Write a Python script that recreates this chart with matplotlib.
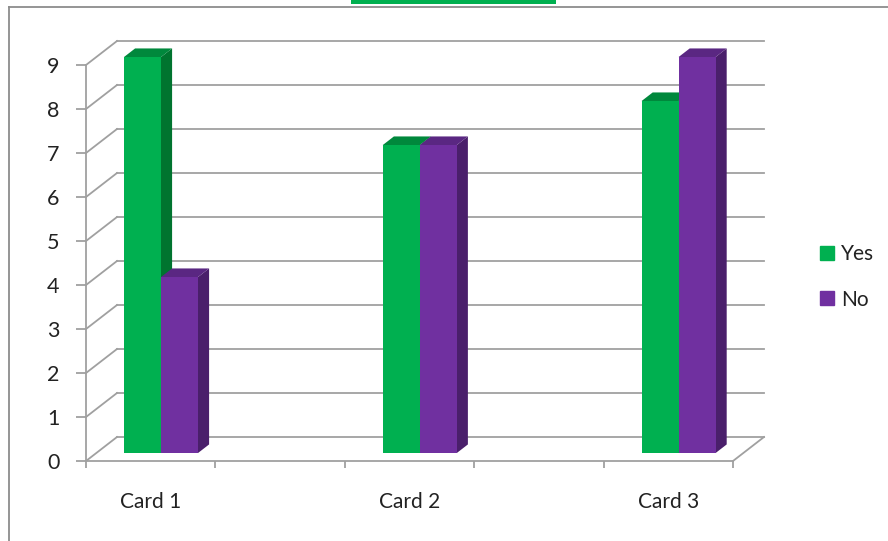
import matplotlib.pyplot as plt
from matplotlib.patches import Polygon, Rectangle
from matplotlib.lines import Line2D

categories = ['Card 1', 'Card 2', 'Card 3']
yes_values = [9, 7, 8]
no_values = [4, 7, 9]
series_names = ['Yes', 'No']
y_ticks = list(range(0, 10))

front_colors = ['#00B050', '#7030A0']
side_colors = ['#00742F', '#4A1F6B']
top_colors = ['#00883C', '#5A2782']
grid_color = '#A0A0A0'

plt.rcParams['font.family'] = ['Lato', 'DejaVu Sans']

fig = plt.figure(figsize=(8.88, 5.41), dpi=100)
ax = fig.add_axes([86 / 888, 80 / 541, 647 / 888, 396 / 541])
n_slots = 2 * len(categories) - 1
ax.set_xlim(0, n_slots)
ax.set_ylim(0, 9)
ax.patch.set_alpha(0)

# pixels per data unit, used to turn the 3-D depth into data offsets
sx = 647 / n_slots
sy = 396 / 9
wall_dx, wall_dy = 31 / sx, 24 / sy


def depth(t):
    return t * wall_dx, t * wall_dy


# back wall gridlines and the left wall connectors
for v in y_ticks:
    ax.plot([wall_dx, n_slots + wall_dx], [v + wall_dy] * 2, color=grid_color,
            lw=1.3, clip_on=False, zorder=1)
    ax.plot([0, wall_dx], [v, v + wall_dy], color=grid_color, lw=1.3,
            clip_on=False, zorder=1)
ax.plot([n_slots, n_slots + wall_dx], [0, wall_dy], color=grid_color, lw=1.3,
        clip_on=False, zorder=1)

# clustered 3-D columns
bar_w = 37 / sx
fdx, fdy = depth(0.33)
bdx, bdy = depth(0.69)
values = [yes_values, no_values]
for i in range(len(categories)):
    c = 2 * i + 0.5
    for j in range(2):
        v = values[j][i]
        x0 = c - bar_w + j * bar_w + fdx
        x1 = x0 + bar_w
        z = 3 + i * 10 + j * 3
        side = Polygon([(x1, fdy), (x1 + bdx - fdx, bdy), (x1 + bdx - fdx, v + bdy),
                        (x1, v + fdy)], closed=True, fc=side_colors[j], ec='none',
                       clip_on=False, zorder=z)
        top = Polygon([(x0, v + fdy), (x1, v + fdy), (x1 + bdx - fdx, v + bdy),
                       (x0 + bdx - fdx, v + bdy)], closed=True, fc=top_colors[j],
                      ec='none', clip_on=False, zorder=z)
        ax.add_patch(side)
        ax.add_patch(top)
        ax.bar(x0, v, width=bar_w, bottom=fdy, align='edge', color=front_colors[j],
               clip_on=False, zorder=z + 1)

for s in ['top', 'right']:
    ax.spines[s].set_visible(False)
for s in ['left', 'bottom']:
    ax.spines[s].set_color(grid_color)
    ax.spines[s].set_linewidth(1.3)

ax.set_yticks(y_ticks)
ax.tick_params(axis='y', length=7, width=1.3, color=grid_color, pad=12,
               labelsize=15.5, labelcolor='#222222')
ax.set_xticks(range(n_slots + 1))
ax.set_xticklabels([])
ax.tick_params(axis='x', which='major', length=5, width=1.3, color=grid_color)
ax.set_xticks([2 * i + 0.5 for i in range(len(categories))], minor=True)
ax.set_xticklabels(categories, minor=True)
ax.tick_params(axis='x', which='minor', length=0, pad=22, labelsize=15,
               labelcolor='#222222')

handles = [Line2D([], [], marker='s', ls='none', markersize=9.5, color=c)
           for c in front_colors]
fig.legend(handles, series_names, loc='center left', bbox_to_anchor=(808 / 888, 1 - 277 / 541),
           frameon=False, fontsize=15, labelcolor='#222222', handlelength=0.8,
           handletextpad=0.3, labelspacing=1.2, borderpad=0)

# chart frame and the edge of the title box
fig.add_artist(Line2D([8.5 / 888, 8.5 / 888], [0, 1 - 7 / 541], color='#8C8C8C', lw=1.3))
fig.add_artist(Line2D([8.5 / 888, 1], [1 - 7 / 541, 1 - 7 / 541], color='#8C8C8C', lw=1.3))
fig.add_artist(Rectangle((351 / 888, 1 - 3.5 / 541), 205 / 888, 3.5 / 541,
                         transform=fig.transFigure, fc='#00B050', ec='none'))

fig.savefig('out.png', dpi=100)
